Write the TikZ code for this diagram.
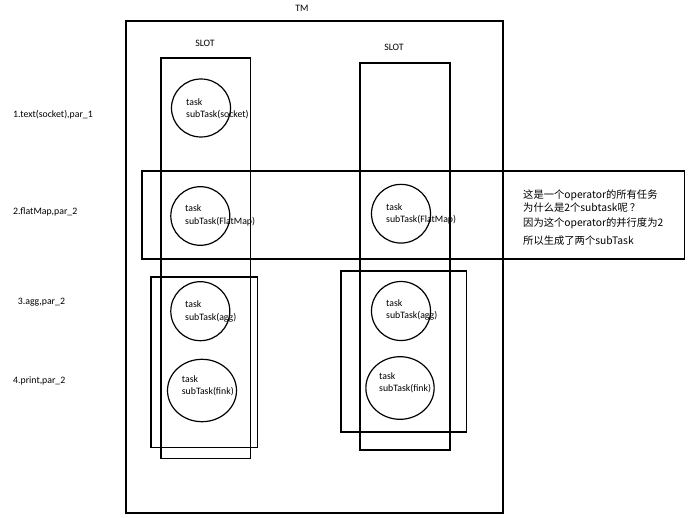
\documentclass[tikz,border=0pt]{standalone}
\usepackage{fontspec}
\setmainfont{Carlito}
\newfontfamily\cjk{Noto Sans CJK SC}
\usetikzlibrary{shapes.geometric}
\begin{document}
\begin{tikzpicture}[x=1pt,y=-1pt,
  box/.style={draw, line width=1.2pt, rectangle, inner sep=0pt, outer sep=0pt, anchor=north west},
  tcirc/.style={draw, line width=1.2pt, ellipse, inner sep=0pt, outer sep=0pt},
  txt/.style={inner sep=0pt, anchor=west, align=left, font=\fontsize{9.8}{12.3}\selectfont},
  ctxt/.style={inner sep=0pt, font=\fontsize{9.8}{12.3}\selectfont},
  cntxt/.style={inner sep=0pt, anchor=west, font=\cjk\fontsize{10.3}{12.3}\selectfont}]
\useasboundingbox (0,0) rectangle (692,518);
\fill[white] (0,0) rectangle (692,518);
% boxes
\node[box, minimum width=377pt, minimum height=492pt] (tm) at (126,21) {};
\node[box, minimum width=89.5pt, minimum height=400.5pt] (slotl) at (161,58) {};
\node[box, minimum width=90pt, minimum height=387pt] (slotr) at (360,63) {};
\node[box, minimum width=542.5pt, minimum height=88pt] (band) at (142,171) {};
\node[box, minimum width=106.3pt, minimum height=170.7pt] (lowl) at (151,277) {};
\node[box, minimum width=125.3pt, minimum height=161pt] (lowr) at (341,271) {};
% labels
\node[ctxt] (tmlab) at (302,8) {TM};
\node[ctxt] (slotllab) at (205,43) {SLOT};
\node[ctxt] (slotrlab) at (394,47) {SLOT};
% circles
\node[tcirc, minimum width=59pt, minimum height=58pt] (c1) at (201,108) {};
\node[tcirc, minimum width=59pt, minimum height=58.6pt] (c2) at (200.3,216) {};
\node[tcirc, minimum width=59pt, minimum height=58.7pt] (c3) at (401,213.7) {};
\node[tcirc, minimum width=59pt, minimum height=59pt] (c4) at (200.3,311.2) {};
\node[tcirc, minimum width=59pt, minimum height=59pt] (c5) at (401,311) {};
\node[tcirc, minimum width=69pt, minimum height=62.4pt] (c6) at (202,390.5) {};
\node[tcirc, minimum width=68.3pt, minimum height=62.6pt] (c7) at (400,388) {};
% circle texts
\node[txt] (t1) at (186,109) {task\\subTask(socket)};
\node[txt] (t2) at (185,215.5) {task\\subTask(FlatMap)};
\node[txt] (t3) at (386,214) {task\\subTask(FlatMap)};
\node[txt] (t4) at (185,311.5) {task\\subTask(agg)};
\node[txt] (t5) at (386,310) {task\\subTask(agg)};
\node[txt] (t6) at (181.7,386) {task\\subTask(fink)};
\node[txt] (t7) at (379,383) {task\\subTask(fink)};
% left labels
\node[txt] (l1) at (13,115) {1.text(socket),par\_1};
\node[txt] (l2) at (13,211.7) {2.flatMap,par\_2};
\node[txt] (l3) at (17.7,301.7) {3.agg,par\_2};
\node[txt] (l4) at (13,380.7) {4.print,par\_2};
% chinese notes
\node[cntxt] (n1) at (523,195) {这是一个operator的所有任务};
\node[cntxt] (n2) at (523,207.3) {为什么是2个subtask呢\kern2pt ？};
\node[cntxt] (n3) at (523,223.3) {因为这个operator的并行度为2};
\node[cntxt] (n4) at (523,240.7) {所以生成了两个subTask};
\end{tikzpicture}
\end{document}
